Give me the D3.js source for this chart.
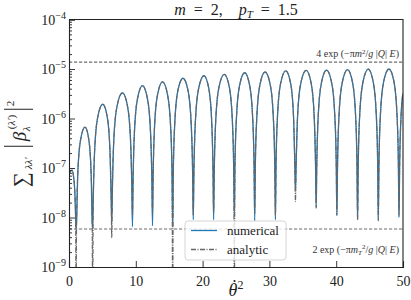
<!DOCTYPE html>
<html>
<head>
<meta charset="utf-8">
<script src="https://cdn.jsdelivr.net/npm/d3@7"></script>
<style>
  body { margin: 0; background: #fff; }
  svg { display: block; }
</style>
</head>
<body>
<svg id="chart" width="411" height="300"></svg>
<script>
// theta-dot squared (x) and the two curves
const theta2 = [
  0, 0.2, 0.45, 0.7, 0.9, 1.0,
  1.05, 1.13, 1.32, 1.73, 2.4, 2.97, 3.31, 3.47,
  3.54, 3.63, 3.84, 4.30, 5.05, 5.73, 6.13, 6.32,
  6.4, 6.50, 6.72, 7.2, 8.0, 8.75, 9.2, 9.41,
  9.5, 9.59, 9.8, 10.25, 11.0, 11.75, 12.2, 12.41,
  12.5, 12.59, 12.8, 13.25, 14.0, 14.76, 15.22, 15.43,
  15.52, 15.61, 15.83, 16.29, 17.06, 17.83, 18.29, 18.51,
  18.6, 18.70, 18.92, 19.4, 20.2, 20.93, 21.36, 21.56,
  21.65, 21.75, 21.97, 22.45, 23.25, 24.0, 24.45, 24.66,
  24.75, 24.84, 25.06, 25.53, 26.3, 27.05, 27.5, 27.71,
  27.8, 27.89, 28.11, 28.58, 29.35, 30.13, 30.59, 30.81,
  30.9, 30.99, 31.21, 31.68, 32.45, 33.18, 33.61, 33.81,
  33.9, 34.0, 34.22, 34.7, 35.5, 36.25, 36.7, 36.91,
  37.0, 37.09, 37.31, 37.78, 38.55, 39.33, 39.79, 40.01,
  40.1, 40.2, 40.42, 40.9, 41.7, 42.45, 42.9, 43.11,
  43.2, 43.3, 43.52, 44.0, 44.8, 45.55, 46.0, 46.21,
  46.3, 46.4, 46.62, 47.1, 47.9, 48.65, 49.1, 49.31,
  49.4, 49.5, 49.72, 50.0
];

const numerical = [
  7.2e-8, 8.6e-8, 9.1e-8, 6.5e-8, 2.6e-8, 9e-9,
  6e-9, 8.0e-9, 8.0e-8, 3.7e-7, 6.7e-7, 3.7e-7, 8.0e-8, 8.0e-9,
  6.2e-9, 2.3e-8, 2.3e-7, 1.07e-6, 1.94e-6, 1.07e-6, 2.3e-7, 2.3e-8,
  8e-9, 4.0e-8, 4.0e-7, 1.8e-6, 3.3e-6, 1.8e-6, 4.0e-7, 4.0e-8,
  6.5e-9, 5.5e-8, 5.5e-7, 2.5e-6, 4.6e-6, 2.5e-6, 5.5e-7, 5.5e-8,
  6.8e-9, 6.6e-8, 6.6e-7, 3.0e-6, 5.5e-6, 3.0e-6, 6.6e-7, 6.6e-8,
  6.5e-9, 7.8e-8, 7.8e-7, 3.6e-6, 6.5e-6, 3.6e-6, 7.8e-7, 7.8e-8,
  9e-9, 8.8e-8, 8.8e-7, 4.0e-6, 7.3e-6, 4.0e-6, 8.8e-7, 8.8e-8,
  9e-9, 9.4e-8, 9.4e-7, 4.3e-6, 7.8e-6, 4.3e-6, 9.4e-7, 9.4e-8,
  1.1e-8, 1.0e-7, 1.0e-6, 4.6e-6, 8.4e-6, 4.6e-6, 1.0e-6, 1.0e-7,
  8.5e-9, 1.04e-7, 1.04e-6, 4.8e-6, 8.7e-6, 4.8e-6, 1.04e-6, 1.04e-7,
  9e-9, 1.1e-7, 1.1e-6, 5.1e-6, 9.2e-6, 5.1e-6, 1.1e-6, 1.1e-7,
  3.5e-8, 1.13e-7, 1.13e-6, 5.2e-6, 9.4e-6, 5.2e-6, 1.13e-6, 1.13e-7,
  1.6e-8, 1.14e-7, 1.14e-6, 5.2e-6, 9.5e-6, 5.2e-6, 1.14e-6, 1.14e-7,
  1.1e-8, 1.16e-7, 1.16e-6, 5.3e-6, 9.7e-6, 5.3e-6, 1.16e-6, 1.16e-7,
  9e-9, 1.19e-7, 1.19e-6, 5.4e-6, 9.9e-6, 5.4e-6, 1.19e-6, 1.19e-7,
  9e-9, 1.2e-7, 1.2e-6, 5.5e-6, 1.0e-5, 5.5e-6, 1.2e-6, 1.2e-7,
  1e-8, 1.2e-7, 1.2e-6, 3.2e-6
];

const analytic = [
  7.2e-8, 8.6e-8, 9.1e-8, 6.5e-8, 2.6e-8, 9e-9,
  1e-10, 8.0e-9, 8.0e-8, 3.7e-7, 6.7e-7, 3.7e-7, 8.0e-8, 8.0e-9,
  1e-10, 2.3e-8, 2.3e-7, 1.07e-6, 1.94e-6, 1.07e-6, 2.3e-7, 2.3e-8,
  3.9e-9, 4.0e-8, 4.0e-7, 1.8e-6, 3.3e-6, 1.8e-6, 4.0e-7, 4.0e-8,
  1.1e-8, 5.5e-8, 5.5e-7, 2.5e-6, 4.6e-6, 2.5e-6, 5.5e-7, 5.5e-8,
  1.2e-8, 6.6e-8, 6.6e-7, 3.0e-6, 5.5e-6, 3.0e-6, 6.6e-7, 6.6e-8,
  1e-10, 7.8e-8, 7.8e-7, 3.6e-6, 6.5e-6, 3.6e-6, 7.8e-7, 7.8e-8,
  1.1e-8, 8.8e-8, 8.8e-7, 4.0e-6, 7.3e-6, 4.0e-6, 8.8e-7, 8.8e-8,
  1.3e-8, 9.4e-8, 9.4e-7, 4.3e-6, 7.8e-6, 4.3e-6, 9.4e-7, 9.4e-8,
  1e-10, 1.0e-7, 1.0e-6, 4.6e-6, 8.4e-6, 4.6e-6, 1.0e-6, 1.0e-7,
  1.2e-8, 1.04e-7, 1.04e-6, 4.8e-6, 8.7e-6, 4.8e-6, 1.04e-6, 1.04e-7,
  1.1e-8, 1.1e-7, 1.1e-6, 5.1e-6, 9.2e-6, 5.1e-6, 1.1e-6, 1.1e-7,
  2.1e-8, 1.13e-7, 1.13e-6, 5.2e-6, 9.4e-6, 5.2e-6, 1.13e-6, 1.13e-7,
  1.55e-8, 1.14e-7, 1.14e-6, 5.2e-6, 9.5e-6, 5.2e-6, 1.14e-6, 1.14e-7,
  1.1e-8, 1.16e-7, 1.16e-6, 5.3e-6, 9.7e-6, 5.3e-6, 1.16e-6, 1.16e-7,
  8.9e-9, 1.19e-7, 1.19e-6, 5.4e-6, 9.9e-6, 5.4e-6, 1.19e-6, 1.19e-7,
  8.5e-9, 1.2e-7, 1.2e-6, 5.5e-6, 1.0e-5, 5.5e-6, 1.2e-6, 1.2e-7,
  1.1e-8, 1.2e-7, 1.2e-6, 3.2e-6
];

// the two dashed bounds
const upperBound = 1.38e-5;
const lowerBound = 5.86e-9;

const xTicks = [0, 10, 20, 30, 40, 50];
const yExponents = [-9, -8, -7, -6, -5, -4];

const serif = "'Liberation Serif', 'Times New Roman', 'DejaVu Serif', serif";

const width = 411, height = 300;
const margin = { top: 19.5, right: 8, bottom: 33, left: 69 };
const innerW = width - margin.left - margin.right;
const innerH = height - margin.top - margin.bottom;

const svg = d3.select("#chart").style("font-family", serif);

const x = d3.scaleLinear().domain([0, 50]).range([0, innerW]);
const y = d3.scaleLog().domain([1e-9, 1e-4]).range([innerH, 0]);

const g = svg.append("g")
    .attr("transform", `translate(${margin.left},${margin.top})`);

svg.append("defs").append("clipPath")
    .attr("id", "plot-clip")
    .append("rect")
    .attr("width", innerW)
    .attr("height", innerH);

const plot = g.append("g").attr("clip-path", "url(#plot-clip)");

// dashed bounds
[upperBound, lowerBound].forEach(v => {
    plot.append("line")
        .attr("x1", 0).attr("x2", innerW)
        .attr("y1", y(v)).attr("y2", y(v))
        .attr("stroke", "#6e6e6e")
        .attr("stroke-width", 1.2)
        .attr("stroke-dasharray", "3.2,1.8");
});

const points = theta2.map((t, i) => ({ t: t, num: numerical[i], ana: analytic[i] }));

const lineNum = d3.line()
    .x(d => x(d.t))
    .y(d => y(d.num))
    .curve(d3.curveMonotoneX);

const lineAna = d3.line()
    .x(d => x(d.t))
    .y(d => y(d.ana))
    .curve(d3.curveMonotoneX);

plot.append("path")
    .datum(points)
    .attr("d", lineNum)
    .attr("fill", "none")
    .attr("stroke", "#1f77b4")
    .attr("stroke-width", 1.3);

plot.append("path")
    .datum(points)
    .attr("d", lineAna)
    .attr("fill", "none")
    .attr("stroke", "#666")
    .attr("stroke-width", 1.2)
    .attr("stroke-dasharray", "5,1.2,1,1.2");

// axes, ticks pointing inward
const xAxis = g.append("g")
    .attr("transform", `translate(0,${innerH})`)
    .call(d3.axisBottom(x).tickValues(xTicks).tickSize(-6).tickPadding(9).tickFormat(d3.format("d")));

xAxis.attr("font-family", null);
xAxis.selectAll("text").attr("font-size", 14).attr("fill", "#222");

g.append("g")
    .call(d3.axisLeft(y).tickValues(yExponents.map(e => Math.pow(10, e))).tickSize(-6).tickFormat(""));

// minor log ticks
const minor = [];
yExponents.slice(0, -1).forEach(e => {
    for (let k = 2; k <= 9; k++) minor.push(k * Math.pow(10, e));
});
g.append("g")
    .call(d3.axisLeft(y).tickValues(minor).tickSize(-3).tickFormat(""))
    .call(s => s.select(".domain").remove());

// y tick labels 10^e
yExponents.forEach(e => {
    const t = g.append("text")
        .attr("x", -3)
        .attr("y", y(Math.pow(10, e)) + 5)
        .attr("text-anchor", "end")
        .attr("fill", "#222")
        .attr("font-size", 14);
    t.append("tspan").text("10");
    t.append("tspan").attr("dy", -6).attr("font-size", 10).text("\u2212" + Math.abs(e));
});

g.selectAll(".domain").attr("stroke", "#222").attr("stroke-width", 1.1);
g.selectAll(".tick line").attr("stroke", "#222").attr("stroke-width", 0.9);

// frame top/right
g.append("path")
    .attr("d", `M0,0H${innerW}V${innerH}`)
    .attr("fill", "none")
    .attr("stroke", "#222")
    .attr("stroke-width", 1.1);

// bound annotations
function boundNote(yPos, factor, withT) {
    const t = g.append("text")
        .attr("x", innerW - 4)
        .attr("y", yPos)
        .attr("text-anchor", "end")
        .attr("fill", "#333")
        .attr("font-size", 10);
    t.append("tspan").text(factor + " exp (\u2212\u03c0");
    t.append("tspan").attr("font-style", "italic").text("m");
    if (withT) {
        t.append("tspan").attr("dy", 2.5).attr("font-size", 7).attr("font-style", "italic").text("T");
        t.append("tspan").attr("dy", -6).attr("font-size", 7).text("2");
        t.append("tspan").attr("dy", 3.5).text("/");
    } else {
        t.append("tspan").attr("dy", -3.5).attr("font-size", 7).text("2");
        t.append("tspan").attr("dy", 3.5).text("/");
    }
    t.append("tspan").attr("font-style", "italic").text("g");
    t.append("tspan").text(" |");
    t.append("tspan").attr("font-style", "italic").text("Q");
    t.append("tspan").text("| ");
    t.append("tspan").attr("font-style", "italic").text("E");
    t.append("tspan").text(")");
}
boundNote(y(upperBound) - 5, "4", false);
boundNote(y(lowerBound) + 24, "2", true);

// legend
const legend = g.append("g").attr("transform", `translate(${185 - margin.left},${221 - margin.top})`);
legend.append("rect")
    .attr("width", 101).attr("height", 39)
    .attr("rx", 3)
    .attr("fill", "#fff").attr("fill-opacity", 0.8)
    .attr("stroke", "#d0d0d0").attr("stroke-width", 0.9);

const legendItems = [
    { label: "numerical", color: "#1f77b4", dash: null },
    { label: "analytic", color: "#666", dash: "5,1.5,1,1.5" }
];
legendItems.forEach((d, i) => {
    const yy = 9.5 + i * 19;
    legend.append("line")
        .attr("x1", 6).attr("x2", 32)
        .attr("y1", yy).attr("y2", yy)
        .attr("stroke", d.color).attr("stroke-width", 1.3)
        .attr("stroke-dasharray", d.dash);
    legend.append("text")
        .attr("x", 42).attr("y", yy + 4)
        .attr("fill", "#222")
        .attr("font-size", 13)
        .text(d.label);
});

// title (math spacing with en/em spaces)
const title = svg.append("text")
    .attr("x", margin.left + innerW / 2)
    .attr("y", 14.5)
    .attr("text-anchor", "middle")
    .attr("fill", "#222")
    .attr("font-size", 16);
title.append("tspan").attr("font-style", "italic").text("m");
title.append("tspan").text("\u2002=\u20022,\u2003");
title.append("tspan").attr("font-style", "italic").text("p");
title.append("tspan").attr("dy", 3).attr("font-size", 11).attr("font-style", "italic").text("T");
title.append("tspan").attr("dy", -3).text("\u2002=\u20021.5");

// x label: theta with a dot, squared
const xLabel = svg.append("text")
    .attr("x", margin.left + innerW / 2)
    .attr("y", 296)
    .attr("text-anchor", "middle")
    .attr("fill", "#222")
    .attr("font-size", 18);
xLabel.append("tspan").attr("font-style", "italic").text("\u03b8");
xLabel.append("tspan").attr("dy", -7).attr("font-size", 12).text("2");
const thetaBox = xLabel.node().getExtentOfChar(0);
svg.append("circle")
    .attr("cx", thetaBox.x + thetaBox.width / 2 + 1.5)
    .attr("cy", 281)
    .attr("r", 1.1)
    .attr("fill", "#222");

// y label, rotated; local x runs up the page, local y runs right
const yl = svg.append("g")
    .attr("transform", `translate(26,${margin.top + innerH / 2}) rotate(-90)`)
    .attr("fill", "#222");
yl.append("text").attr("x", -44).attr("y", 2).attr("font-size", 21).text("\u2211");
yl.append("text").attr("x", -26).attr("y", 6).attr("font-size", 11)
    .attr("font-style", "italic").text("\u03bb\u03bb\u2032");
yl.append("text").attr("x", 2).attr("y", 0).attr("font-size", 19)
    .attr("font-style", "italic").text("\u03b2");
yl.append("text").attr("x", 12).attr("y", 4).attr("font-size", 11)
    .attr("font-style", "italic").text("\u03bb");
const sup = yl.append("text").attr("x", 14).attr("y", -11).attr("font-size", 11);
sup.append("tspan").text("(");
sup.append("tspan").attr("font-style", "italic").text("\u03bb\u2032");
sup.append("tspan").text(")");
[-3, 34].forEach(lx => {
    yl.append("line")
        .attr("x1", lx).attr("x2", lx)
        .attr("y1", -22).attr("y2", 7)
        .attr("stroke", "#222").attr("stroke-width", 1);
});
yl.append("text").attr("x", 37).attr("y", -12).attr("font-size", 11).text("2");
</script>
</body>
</html>
